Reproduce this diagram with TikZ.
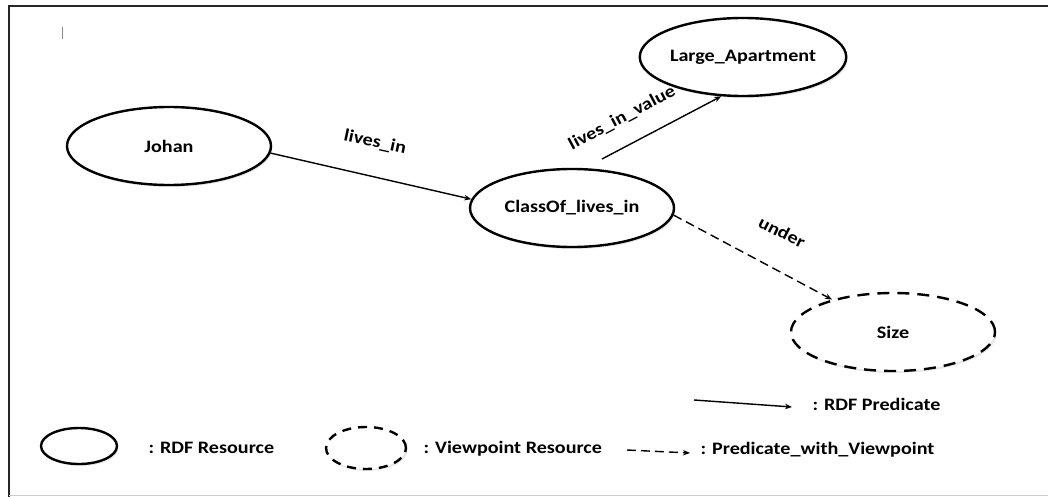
\documentclass[tikz,border=0pt]{standalone}
\usepackage{fontspec}
\setmainfont{Carlito}[FakeStretch=1.15]
\usetikzlibrary{arrows.meta,shadows,shapes.geometric}
\begin{document}
\begin{tikzpicture}[x=1pt,y=-1pt,
  res/.style={ellipse,draw=black,line width=2.4pt,minimum width=204pt,minimum height=78pt,inner sep=0pt,
    drop shadow={shadow xshift=1.5pt,shadow yshift=-2pt,opacity=0.18}, fill=white},
  vres/.style={res,dash pattern=on 12pt off 8pt},
  lbl/.style={font=\bfseries\fontsize{17.5}{20}\selectfont},
  pred/.style={line width=1.4pt,-{Stealth[length=7pt,width=5.5pt]}},
  vpred/.style={pred,dash pattern=on 9pt off 5pt}]
\useasboundingbox (0,0) rectangle (1048,497);
\fill[white] (0,0) rectangle (1048,497);
% frame
\draw[line width=2.5pt,black!85] (9,497) -- (9,6) -- (1048,6);
\draw[line width=1pt,black!20] (9,495.5) -- (1048,495.5);
\draw[line width=1pt,black!45] (62,27) -- (62,39);
% nodes
\node[res,lbl] (J) at (169,146) {Johan};
\node[res,lbl] (LA) at (743,57) {Large\_Apartment};
\node[res,lbl] (C) at (572,208) {ClassOf\_lives\_in};
\node[vres,lbl] (S) at (893,332) {Size};
% edges
\draw[pred] (J.-4) -- (C.175);
\coordinate (lvs) at (602,159);
\draw[pred] (lvs) -- (LA.-119);
\draw[vpred] (C.-4) -- (S.152);
% edge labels
\node[lbl,rotate=-12] (l1) at (375,142) {lives\_in};
\node[lbl,rotate=28] (l2) at (622,118) {lives\_in\_value};
\node[lbl,rotate=-27] (l3) at (782,232) {under};
% legend
\node[res,minimum width=76pt,minimum height=36pt] (ls) at (79,446) {};
\node[vres,minimum width=80pt,minimum height=42pt,dash pattern=on 9pt off 7pt] (lv) at (366,448) {};
\node[lbl,anchor=west] (t1) at (145,448) {: RDF Resource};
\node[lbl,anchor=west] (t2) at (420,449) {: Viewpoint Resource};
\coordinate (a1) at (694,400);
\coordinate (a2) at (792,407);
\draw[pred] (a1) -- (a2);
\node[lbl,anchor=west] (t3) at (809,404) {: RDF Predicate};
\coordinate (b1) at (627,450);
\coordinate (b2) at (690,453);
\draw[vpred] (b1) -- (b2);
\node[lbl,anchor=west] (t4) at (697,450) {: Predicate\_with\_Viewpoint};
\end{tikzpicture}
\end{document}
